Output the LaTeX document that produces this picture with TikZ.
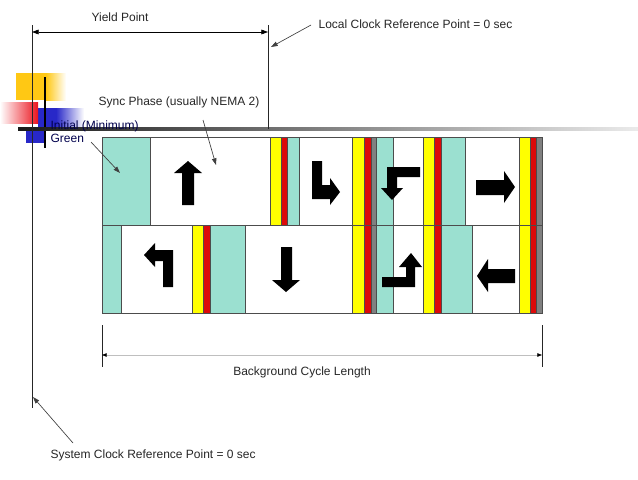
\documentclass[tikz,border=0pt]{standalone}
\usepackage{fontspec}
\setmainfont{Liberation Sans}
\usepackage{xcolor}
\usetikzlibrary{arrows.meta,positioning}
\definecolor{phgreen}{RGB}{155,224,208}
\definecolor{phyellow}{RGB}{255,255,0}
\definecolor{phred}{RGB}{220,10,10}
\definecolor{phgrey}{RGB}{128,128,128}
\definecolor{decoyellow}{RGB}{255,200,20}
\definecolor{decored}{RGB}{235,20,30}
\definecolor{decoblue}{RGB}{40,40,200}
\tikzset{
  seg_g/.style={draw=black!70, fill=phgreen, line width=0.4pt},
  seg_y/.style={draw=black!70, fill=phyellow, line width=0.4pt},
  seg_r/.style={draw=black!70, fill=phred, line width=0.4pt},
  seg_k/.style={draw=black!70, fill=phgrey, line width=0.4pt},
  seg_w/.style={draw=black!70, fill=white, line width=0.4pt},
  sig/.style={fill=black, draw=none},
  lbl/.style={inner sep=1pt, font=\fontsize{9}{11}\selectfont, text=black!85},
  refline/.style={draw=black!85, line width=0.6pt},
  dim_a/.style={draw=black, line width=0.5pt, {Triangle[length=5pt,width=3.6pt]}-{Triangle[length=5pt,width=3.6pt]}},
  dim_b/.style={draw=black!25, line width=0.5pt, {Triangle[length=3.5pt,width=2.6pt,fill=black,color=black]}-{Triangle[length=3.5pt,width=2.6pt,color=black]}},
  pointer/.style={draw=black!75, line width=0.5pt, -{Triangle[length=5pt,width=3.4pt]}}
}
\begin{document}
\begin{tikzpicture}[x=0.75pt,y=-0.75pt]
\useasboundingbox (0,0) rectangle (638,479);
% slide decoration
\fill[decoyellow] (16,73) rectangle (46,100);
\shade[left color=decoyellow, right color=white] (46,73) rectangle (66,100);
\fill[decoblue] (38,108) rectangle (56,130);
\shade[left color=decoblue, right color=white] (56,108) rectangle (84,130);
\fill[decoblue] (26,130) rectangle (46,143);
\shade[left color=white, right color=decored] (0,102) rectangle (38,123);
\draw[black, line width=2pt] (45,77) -- (45,148);
\shade[left color=black!90, right color=black!8] (18,127.5) rectangle (638,130.5);

% phase bars
\foreach \xa/\xb/\kind in {102/150/seg_g, 150/270/seg_w, 270/281/seg_y, 281/287/seg_r,
    287/299/seg_g, 299/352/seg_w, 352/364/seg_y, 364/371/seg_r, 371/376/seg_k,
    376/393/seg_g, 393/423/seg_w, 423/434/seg_y, 434/441/seg_r, 441/465/seg_g,
    465/519/seg_w, 519/530/seg_y, 530/536/seg_r, 536/542/seg_k}
  \path[\kind] (\xa,137) rectangle (\xb,225);
\foreach \xa/\xb/\kind in {102/121/seg_g, 121/192/seg_w, 192/203/seg_y, 203/210/seg_r,
    210/245/seg_g, 245/352/seg_w, 352/364/seg_y, 364/371/seg_r, 371/376/seg_k,
    376/393/seg_g, 393/423/seg_w, 423/434/seg_y, 434/441/seg_r, 441/472/seg_g,
    472/519/seg_w, 519/530/seg_y, 530/536/seg_r, 536/542/seg_k}
  \path[\kind] (\xa,225) rectangle (\xb,313);
\draw[black!70, line width=0.6pt] (102,137) rectangle (542,313);

% movement arrows
\fill[sig] (182,205) -- (182,173) -- (174,173) -- (188,161) -- (202,173) -- (194,173) -- (194,205) -- cycle;
\fill[sig] (312,161) -- (322,161) -- (322,185) -- (330,185) -- (330,178) -- (340,192) -- (330,205) -- (330,199) -- (312,199) -- cycle;
\fill[sig] (420,167) -- (387,167) -- (387,188) -- (381,188) -- (392,200) -- (403,188) -- (397,188) -- (397,177) -- (420,177) -- cycle;
\fill[sig] (476,180) -- (504,180) -- (504,171) -- (515,187) -- (504,203) -- (504,195) -- (476,195) -- cycle;
\fill[sig] (173,287) -- (173,250) -- (155,250) -- (155,243) -- (144,255) -- (155,267) -- (155,261) -- (163,261) -- (163,287) -- cycle;
\fill[sig] (281,247) -- (292,247) -- (292,280) -- (300,280) -- (286,292) -- (272,280) -- (281,280) -- cycle;
\fill[sig] (382,277) -- (406,277) -- (406,267) -- (399,267) -- (411,253) -- (422,267) -- (415,267) -- (415,287) -- (382,287) -- cycle;
\fill[sig] (515,269) -- (488,269) -- (488,259) -- (477,276) -- (488,292) -- (488,283) -- (515,283) -- cycle;

% reference lines
\coordinate (systop) at (32,25);
\coordinate (sysbot) at (32,408);
\coordinate (loctop) at (268,25);
\coordinate (locbot) at (268,129);
\coordinate (cyl) at (102,325);
\coordinate (cylb) at (102,367);
\coordinate (cyr) at (542,325);
\coordinate (cyrb) at (542,367);
\draw[refline] (systop) -- (sysbot);
\draw[refline] (loctop) -- (locbot);
\draw[refline] (cyl) -- (cylb);
\draw[refline] (cyr) -- (cyrb);
\coordinate (yl) at (32,32);
\coordinate (yr) at (268,32);
\coordinate (bl) at (102,355);
\coordinate (br) at (542,355);
\draw[dim_a] (yl) -- (yr);
\draw[dim_b] (bl) -- (br);

% labels
\node[lbl] (yield) at (120,17) {Yield Point};
\node[lbl, anchor=west] (local) at (317,24) {Local Clock Reference Point = 0 sec};
\node[lbl, anchor=west] (sync) at (97,102) {Sync Phase (usually NEMA 2)};
\node[lbl, anchor=west, text=black!70!blue] (initial) at (49,126) {Initial (Minimum)};
\node[lbl, anchor=west, text=black!70!blue] (green) at (49,138) {Green};
\node[lbl] (cycle) at (302,372) {Background Cycle Length};
\node[lbl, anchor=west] (system) at (49,455) {System Clock Reference Point = 0 sec};

\coordinate (locA) at (311,25);
\coordinate (locB) at (271,47);
\coordinate (syncA) at (203,120);
\coordinate (syncB) at (216,165);
\coordinate (grnA) at (91,142);
\coordinate (grnB) at (120,173);
\coordinate (sysA) at (73,443);
\coordinate (sysB) at (33,397);
\draw[pointer] (locA) -- (locB);
\draw[pointer] (syncA) -- (syncB);
\draw[pointer] (grnA) -- (grnB);
\draw[pointer] (sysA) -- (sysB);
\end{tikzpicture}
\end{document}
